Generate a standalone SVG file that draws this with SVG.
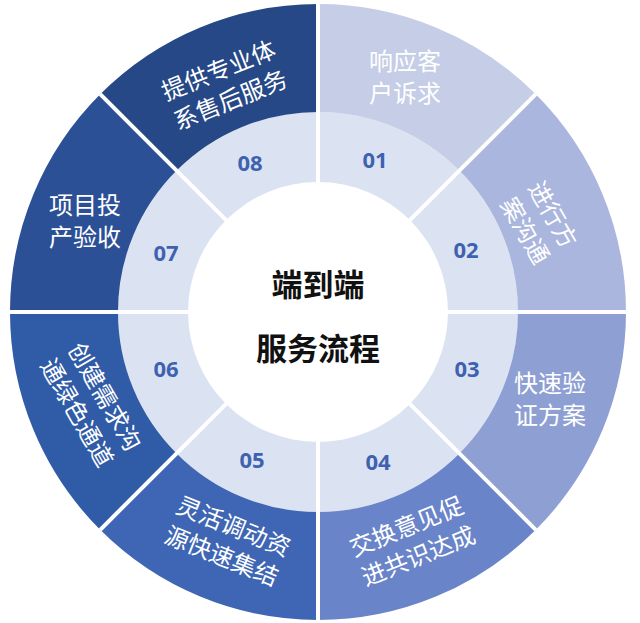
<svg xmlns="http://www.w3.org/2000/svg" width="640" height="623" viewBox="0 0 640 623">
<style>
.seg{stroke:none}
.lbl{font-family:"Noto Sans CJK SC","Noto Sans",sans-serif;font-size:24px;fill:#fff;text-anchor:middle}
.num{font-family:"Noto Sans","Liberation Sans",sans-serif;font-size:22px;font-weight:bold;fill:#3e62b0;text-anchor:middle}
.ctr{font-family:"Noto Sans CJK SC",sans-serif;font-size:31px;font-weight:bold;fill:#111;text-anchor:middle}
</style>
<rect width="640" height="623" fill="#fff"/>
<circle cx="318" cy="312" r="200" fill="#dbe2f2"/>
<g id="seg1"><path class="seg" fill="#c6cde7" d="M318,4 A308,308 0 0 1 535.8,94.2 L459.4,170.6 A200,200 0 0 0 318,112Z"/><text class="lbl" x="405" y="70">响应客</text><text class="lbl" x="405" y="102">户诉求</text><text class="num" x="375" y="168">01</text></g>
<g id="seg2"><path class="seg" fill="#aab6dd" d="M535.8,94.2 A308,308 0 0 1 626,312 L518,312 A200,200 0 0 0 459.4,170.6Z"/><g transform="translate(540,222) rotate(60)"><text class="lbl" x="0" y="-6">进行方</text><text class="lbl" x="0" y="26">案沟通</text></g><text class="num" x="466" y="258">02</text></g>
<g id="seg3"><path class="seg" fill="#8e9fd3" d="M626,312 A308,308 0 0 1 535.8,529.8 L459.4,453.4 A200,200 0 0 0 518,312Z"/><text class="lbl" x="550" y="392">快速验</text><text class="lbl" x="550" y="424">证方案</text><text class="num" x="467" y="377">03</text></g>
<g id="seg4"><path class="seg" fill="#6a84c9" d="M535.8,529.8 A308,308 0 0 1 318,620 L318,512 A200,200 0 0 0 459.4,453.4Z"/><g transform="translate(412,540) rotate(-22)"><text class="lbl" x="0" y="-6">交换意见促</text><text class="lbl" x="0" y="26">进共识达成</text></g><text class="num" x="378" y="470">04</text></g>
<g id="seg5"><path class="seg" fill="#3e66b4" d="M318,620 A308,308 0 0 1 100.2,529.8 L176.6,453.4 A200,200 0 0 0 318,512Z"/><g transform="translate(228,540) rotate(22)"><text class="lbl" x="0" y="-6">灵活调动资</text><text class="lbl" x="0" y="26">源快速集结</text></g><text class="num" x="252" y="468">05</text></g>
<g id="seg6"><path class="seg" fill="#2f5ba7" d="M100.2,529.8 A308,308 0 0 1 10,312 L118,312 A200,200 0 0 0 176.6,453.4Z"/><g transform="translate(92,404) rotate(60)"><text class="lbl" x="0" y="-6">创建需求沟</text><text class="lbl" x="0" y="26">通绿色通道</text></g><text class="num" x="166" y="377">06</text></g>
<g id="seg7"><path class="seg" fill="#2c5096" d="M10,312 A308,308 0 0 1 100.2,94.2 L176.6,170.6 A200,200 0 0 0 118,312Z"/><text class="lbl" x="85" y="214">项目投</text><text class="lbl" x="85" y="246">产验收</text><text class="num" x="166" y="261">07</text></g>
<g id="seg8"><path class="seg" fill="#264886" d="M100.2,94.2 A308,308 0 0 1 318,4 L318,112 A200,200 0 0 0 176.6,170.6Z"/><g transform="translate(224,84) rotate(-22)"><text class="lbl" x="0" y="-6">提供专业体</text><text class="lbl" x="0" y="26">系售后服务</text></g><text class="num" x="250" y="171">08</text></g>
<g id="connectors" stroke="#fff" stroke-width="4">
<line x1="318" y1="4" x2="318" y2="620"/><line x1="10" y1="312" x2="626" y2="312"/>
<line x1="100.2" y1="94.2" x2="535.8" y2="529.8"/><line x1="535.8" y1="94.2" x2="100.2" y2="529.8"/>
</g>
<g id="center"><circle cx="318" cy="312" r="130" fill="#fff"/><text class="ctr" x="318" y="296">端到端</text><text class="ctr" x="318" y="360">服务流程</text></g>
</svg>
